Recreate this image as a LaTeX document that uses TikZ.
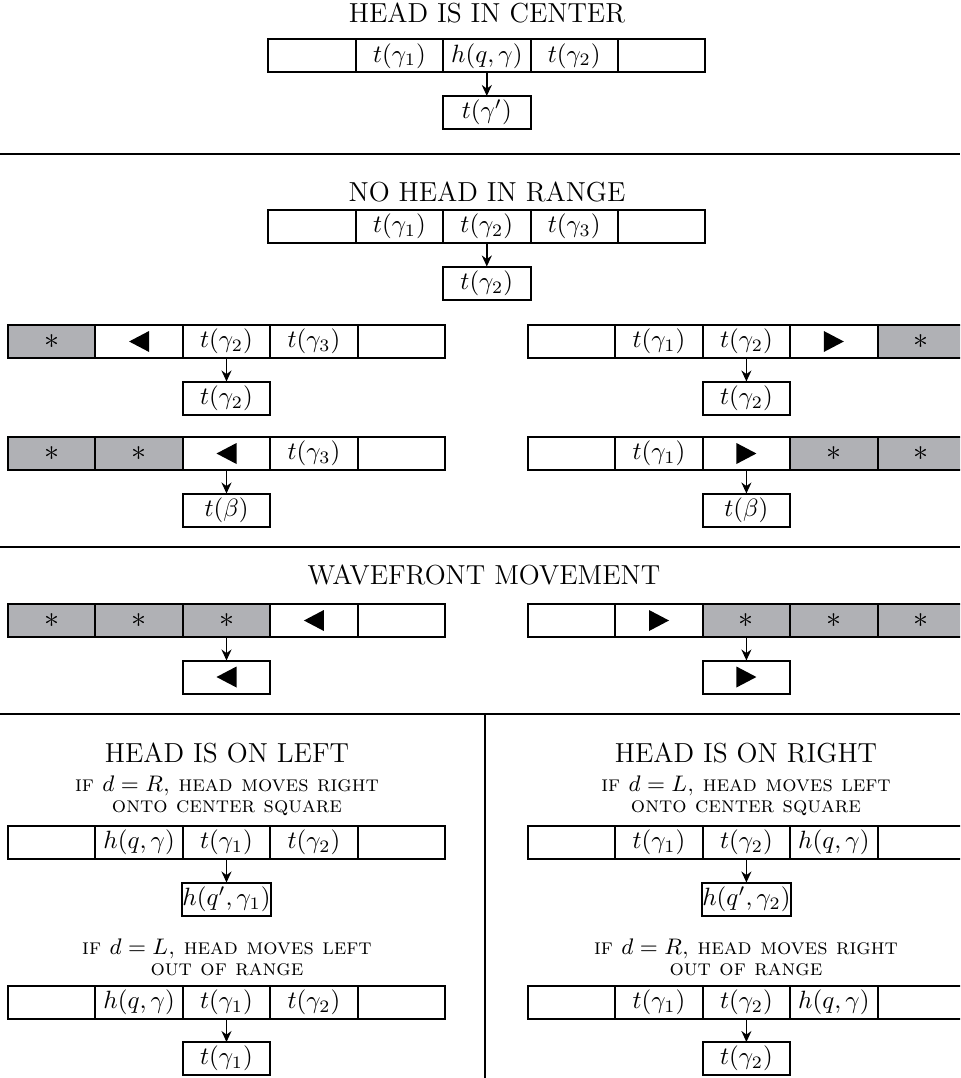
\documentclass[tikz,border=0pt]{standalone}
\usetikzlibrary{positioning,arrows.meta}
\definecolor{tapegray}{RGB}{176,177,181}
\tikzset{
  lft/.pic={\fill (-10,0) -- (10,-10.5) -- (10,10.5) -- cycle;},
  rgt/.pic={\fill (10,0) -- (-10,-10.5) -- (-10,10.5) -- cycle;}
}
\begin{document}
\begin{tikzpicture}[x=0.4pt, y=-0.4pt,
    cell/.style={draw, line width=0.8pt, minimum width=34.96pt,
                 minimum height=13.2pt, inner sep=0pt, outer sep=0pt},
    starcell/.style={cell, fill=tapegray, font=\large},
    arr/.style={-{Stealth[length=4.4pt, width=4pt]}, line width=0.6pt},
    ttl/.style={anchor=base, font=\fontsize{11}{13}\selectfont},
    sub/.style={anchor=base, align=center, font=\fontsize{9}{8.2}\selectfont\scshape},
    sep/.style={line width=0.8pt}
  ]
    \clip (0,0) rectangle (960,1078);

    % head is in center
    \node[ttl] (tA) at (487,23) {HEAD IS IN CENTER};
    \node[cell] (a1) at (312,56) {};
    \node[cell, right=0pt of a1] (a2) {$t(\gamma_1)$};
    \node[cell, right=0pt of a2] (a3) {$h(q,\gamma)$};
    \node[cell, right=0pt of a3] (a4) {$t(\gamma_2)$};
    \node[cell, right=0pt of a4] (a5) {};
    \node[cell, below=9.4pt of a3] (ra) {$t(\gamma')$};
    \draw[arr] (a3) -- (ra);

    \draw[sep] (0,154) -- (960,154);

    % no head in range
    \node[ttl] (tB) at (487,202) {NO HEAD IN RANGE};
    \node[cell] (b1) at (312,226.5) {};
    \node[cell, right=0pt of b1] (b2) {$t(\gamma_1)$};
    \node[cell, right=0pt of b2] (b3) {$t(\gamma_2)$};
    \node[cell, right=0pt of b3] (b4) {$t(\gamma_3)$};
    \node[cell, right=0pt of b4] (b5) {};
    \node[cell, below=9.4pt of b3] (rb) {$t(\gamma_2)$};
    \draw[arr] (b3) -- (rb);

    \node[starcell] (c1) at (51.7,341.5) {$\ast$};
    \node[cell, right=0pt of c1] (c2) {};
    \node[cell, right=0pt of c2] (c3) {$t(\gamma_2)$};
    \node[cell, right=0pt of c3] (c4) {$t(\gamma_3)$};
    \node[cell, right=0pt of c4] (c5) {};
    \pic at (c2) {lft};
    \node[cell, below=9.4pt of c3] (rc) {$t(\gamma_2)$};
    \draw[arr] (c3) -- (rc);

    \node[cell] (d1) at (571.6,341.5) {};
    \node[cell, right=0pt of d1] (d2) {$t(\gamma_1)$};
    \node[cell, right=0pt of d2] (d3) {$t(\gamma_2)$};
    \node[cell, right=0pt of d3] (d4) {};
    \node[starcell, right=0pt of d4] (d5) {$\ast$};
    \pic at (d4) {rgt};
    \node[cell, below=9.4pt of d3] (rd) {$t(\gamma_2)$};
    \draw[arr] (d3) -- (rd);

    \node[starcell] (e1) at (51.7,453.5) {$\ast$};
    \node[starcell, right=0pt of e1] (e2) {$\ast$};
    \node[cell, right=0pt of e2] (e3) {};
    \node[cell, right=0pt of e3] (e4) {$t(\gamma_3)$};
    \node[cell, right=0pt of e4] (e5) {};
    \pic at (e3) {lft};
    \node[cell, below=9.4pt of e3] (re) {$t(\beta)$};
    \draw[arr] (e3) -- (re);

    \node[cell] (f1) at (571.6,453.5) {};
    \node[cell, right=0pt of f1] (f2) {$t(\gamma_1)$};
    \node[cell, right=0pt of f2] (f3) {};
    \node[starcell, right=0pt of f3] (f4) {$\ast$};
    \node[starcell, right=0pt of f4] (f5) {$\ast$};
    \pic at (f3) {rgt};
    \node[cell, below=9.4pt of f3] (rf) {$t(\beta)$};
    \draw[arr] (f3) -- (rf);

    \draw[sep] (0,547) -- (960,547);

    % wavefront movement
    \node[ttl] (tC) at (484,584) {WAVEFRONT MOVEMENT};
    \node[starcell] (g1) at (51.7,620.5) {$\ast$};
    \node[starcell, right=0pt of g1] (g2) {$\ast$};
    \node[starcell, right=0pt of g2] (g3) {$\ast$};
    \node[cell, right=0pt of g3] (g4) {};
    \node[cell, right=0pt of g4] (g5) {};
    \pic at (g4) {lft};
    \node[cell, below=9.4pt of g3] (rg) {};
    \pic at (rg) {lft};
    \draw[arr] (g3) -- (rg);

    \node[cell] (h1) at (571.6,620.5) {};
    \node[cell, right=0pt of h1] (h2) {};
    \node[starcell, right=0pt of h2] (h3) {$\ast$};
    \node[starcell, right=0pt of h3] (h4) {$\ast$};
    \node[starcell, right=0pt of h4] (h5) {$\ast$};
    \pic at (h2) {rgt};
    \node[cell, below=9.4pt of h3] (rh) {};
    \pic at (rh) {rgt};
    \draw[arr] (h3) -- (rh);

    \draw[sep] (0,714) -- (960,714);
    \draw[sep] (485,714) -- (485,1078);

    % head is on left
    \node[ttl] (tD) at (227,762) {HEAD IS ON LEFT};
    \node[sub] (sD) at (227,812) {if $d=R$, head moves right\\onto center square};
    \node[cell] (i1) at (51.7,842.5) {};
    \node[cell, right=0pt of i1] (i2) {$h(q,\gamma)$};
    \node[cell, right=0pt of i2] (i3) {$t(\gamma_1)$};
    \node[cell, right=0pt of i3] (i4) {$t(\gamma_2)$};
    \node[cell, right=0pt of i4] (i5) {};
    \node[cell, below=9.4pt of i3] (ri) {$h(q',\gamma_1)$};
    \draw[arr] (i3) -- (ri);

    \node[sub] (sF) at (227,975) {if $d=L$, head moves left\\out of range};
    \node[cell] (k1) at (51.7,1002) {};
    \node[cell, right=0pt of k1] (k2) {$h(q,\gamma)$};
    \node[cell, right=0pt of k2] (k3) {$t(\gamma_1)$};
    \node[cell, right=0pt of k3] (k4) {$t(\gamma_2)$};
    \node[cell, right=0pt of k4] (k5) {};
    \node[cell, below=9.4pt of k3] (rk) {$t(\gamma_1)$};
    \draw[arr] (k3) -- (rk);

    % head is on right
    \node[ttl] (tE) at (746,762) {HEAD IS ON RIGHT};
    \node[sub] (sE) at (746,812) {if $d=L$, head moves left\\onto center square};
    \node[cell] (j1) at (571.6,842.5) {};
    \node[cell, right=0pt of j1] (j2) {$t(\gamma_1)$};
    \node[cell, right=0pt of j2] (j3) {$t(\gamma_2)$};
    \node[cell, right=0pt of j3] (j4) {$h(q,\gamma)$};
    \node[cell, right=0pt of j4] (j5) {};
    \node[cell, below=9.4pt of j3] (rj) {$h(q',\gamma_2)$};
    \draw[arr] (j3) -- (rj);

    \node[sub] (sG) at (746,975) {if $d=R$, head moves right\\out of range};
    \node[cell] (l1) at (571.6,1002) {};
    \node[cell, right=0pt of l1] (l2) {$t(\gamma_1)$};
    \node[cell, right=0pt of l2] (l3) {$t(\gamma_2)$};
    \node[cell, right=0pt of l3] (l4) {$h(q,\gamma)$};
    \node[cell, right=0pt of l4] (l5) {};
    \node[cell, below=9.4pt of l3] (rl) {$t(\gamma_2)$};
    \draw[arr] (l3) -- (rl);
\end{tikzpicture}
\end{document}
